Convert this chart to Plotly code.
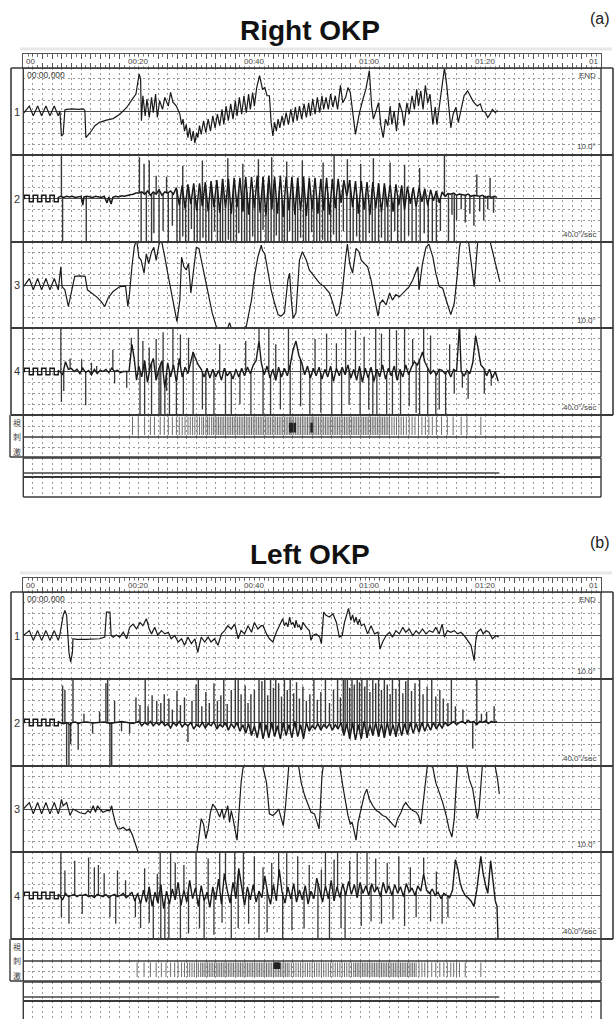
import numpy as np
import plotly.graph_objects as go

# ------------------------------------------------------------------ data
T_MAX = 100.0                     # seconds shown across the recording chart
GRID_STEP = 20.0 / 12.0           # time grid step (s)
RULER_T = [0, 20, 40, 60, 80, 100]
RULER_LBL = ["00", "00:20", "00:40", "01:00", "01:20", "01"]
ROW_LABELS = ["1", "2", "3", "4"]
SCALE_LBL = ["10.0°", "40.0°/sec", "10.0°", "40.0°/sec"]
STIM_LBL = ["視", "刺", "激"]
REC_END = 82.4

# calibration square wave (velocity channels), (t, value in divisions)
CAL_SQ = [(0, 0.0), (0.2, 0.0), (0.2, 0.3), (1.04, 0.3), (1.04, -0.3), (1.73, -0.3), (1.73, 0.3),
          (2.48, 0.3), (2.48, -0.3), (3.17, -0.3), (3.17, 0.3), (3.92, 0.3), (3.92, -0.3),
          (4.61, -0.3), (4.61, 0.3), (5.36, 0.3), (5.36, -0.3), (6.05, -0.3), (6.05, 0.1)]

# ---- (a) Right OKP
A1_POS = [(0.0, -0.2), (1.04, 0.5), (1.73, -0.4), (2.48, 0.5), (3.17, -0.4), (3.92, 0.5), (4.61, -0.4), (5.36, 0.5),
          (6.05, -0.4), (6.34, 0.05), (6.6, -2.25), (6.9, -2.1), (7.2, 0.15), (7.5, 0.2), (8.5, 0.25), (9.5, 0.2),
          (10.4, 0.25), (10.66, 0.1), (10.83, -2.4), (11.5, -2.0), (12.4, -1.3), (13.2, -1.0), (14.4, -0.8),
          (15.55, -0.65), (16.7, -0.25), (17.9, 0.37), (18.7, 1.0), (19.5, 1.6), (20.05, 3.45), (20.3, 3.0),
          (20.45, -0.85), (20.7, 1.45), (21.1, -0.4), (21.4, 1.15), (21.8, -0.55), (22.2, 1.3), (22.5, -0.1),
          (22.9, 1.6), (23.2, -0.55), (23.6, 1.0), (24.1, 0.2), (24.5, 1.3), (25.1, 0.5), (25.5, 1.75), (25.9, 0.85),
          (26.5, 0.5), (27.1, -0.25), (27.4, -1.2), (27.65, -0.7), (27.9, -1.8), (28.2, -1.2), (28.5, -2.4),
          (28.8, -1.5), (29.1, -2.7), (29.4, -1.8), (29.7, -2.9), (30.0, -1.95), (30.2, -2.4), (30.5, -1.3),
          (30.8, -2.1), (31.2, -0.85), (31.6, -1.95), (32.0, -0.7), (32.4, -1.8), (32.8, -0.4), (33.2, -1.5),
          (33.6, -0.25), (34.0, -1.3), (34.4, 0.2), (34.7, -1.2), (35.1, 0.5), (35.5, -0.85), (35.9, 0.7),
          (36.3, -0.7), (36.7, 1.0), (37.0, -0.4), (37.4, 1.3), (37.8, -0.25), (38.2, 1.45), (38.6, -0.1),
          (39.0, 1.6), (39.3, 0.2), (39.7, 1.75), (40.0, 0.5), (40.4, 2.2), (40.9, 3.3), (41.4, 2.05), (41.8, 2.2),
          (42.2, 1.45), (42.6, 1.45), (42.9, -1.0), (43.2, -2.25), (43.5, -1.0), (43.8, -1.8), (44.1, -0.7),
          (44.4, -1.5), (44.8, -0.4), (45.1, -1.3), (45.5, -0.1), (45.9, -1.2), (46.3, 0.2), (46.7, -1.0),
          (47.1, 0.4), (47.4, -0.85), (47.8, 0.5), (48.2, -0.7), (48.6, 0.7), (49.0, -0.55), (49.4, 0.8),
          (49.7, -0.4), (50.1, 1.15), (50.5, -0.25), (50.9, 1.3), (51.3, -0.1), (51.7, 1.45), (52.0, 0.2),
          (52.4, 1.3), (52.8, 0.2), (53.2, 1.6), (53.6, 0.4), (54.0, 1.45), (54.4, 0.2), (54.9, 2.4), (55.3, 0.8),
          (55.8, 1.3), (56.2, 2.2), (56.6, 1.75), (57.0, 0.2), (57.5, -2.1), (57.8, -1.2), (58.2, -0.1),
          (58.8, 1.15), (59.3, 2.05), (59.9, 3.75), (60.3, 0.5), (60.6, -0.7), (61.1, 0.2), (61.5, 0.8),
          (61.9, -1.3), (62.3, -2.4), (62.7, -0.7), (63.1, -1.3), (63.5, 0.5), (63.8, -1.2), (64.2, 0.05),
          (64.6, -1.8), (65.1, 0.8), (65.6, -0.1), (65.9, -1.3), (66.4, 0.8), (66.8, -0.25), (67.3, 1.45),
          (67.7, 0.2), (68.1, 2.05), (68.4, 0.5), (68.8, 1.9), (69.2, 0.2), (69.6, 2.4), (70.0, 0.8), (70.4, 1.6),
          (70.9, -1.2), (71.3, 0.4), (71.6, -1.2), (72.0, 0.5), (72.5, 2.2), (72.9, 4.0), (73.3, 2.4), (73.7, 0.2),
          (74.0, -1.5), (74.4, -0.25), (74.9, 0.4), (75.3, -1.0), (75.8, 0.2), (76.3, 1.45), (76.9, 1.9),
          (77.3, 1.45), (77.8, 1.0), (78.2, 0.7), (78.6, 0.5), (79.1, 0.7), (79.5, 0.05), (80.0, -0.1),
          (80.4, -0.55), (80.8, -0.25), (81.2, 0.2), (81.7, -0.1), (82.1, 0.1)]

A2_BASE = CAL_SQ + [
    (6.5, 0.2), (7, 0.1), (7.5, 0.2), (8, 0.15), (8.5, 0.2), (9, 0.1), (9.5, 0.15), (10, 0.2), (10.3, -0.6),
    (10.5, 0.15), (11, 0.2), (12, 0.1), (12.5, 0.2), (13, 0.15), (13.5, 0.1), (14, 0.2), (14.5, -0.4), (14.8, 0.15),
    (15.2, -0.5), (15.5, 0.1), (16, 0.2), (16.5, 0.15), (17, 0.25), (17.5, 0.2), (18, 0.3), (18.5, 0.35), (19, 0.4),
    (19.5, 0.5), (20, 0.5), (20.5, 0.6), (21, 0.4), (21.5, 0.7), (22, 0.3), (22.5, 0.6), (23, 0.4), (23.5, 0.8),
    (24, 0.3), (24.5, 0.6), (25, 0.5), (25.5, 0.7), (26, 0.4),
    (26.5, 1.0), (27.0, -0.6), (27.5, 1.2), (28.0, -0.9), (28.5, 1.3), (29.0, -0.5), (29.5, 1.4), (30.0, -1.1),
    (30.5, 1.4), (31.0, -0.7), (31.5, 1.5), (32.0, -1.2), (32.5, 1.6), (33.0, -0.8), (33.5, 1.7), (34.0, -1.3),
    (34.5, 1.8), (35.0, -0.9), (35.5, 1.8), (36.0, -1.4), (36.5, 1.9), (37.0, -0.8), (37.5, 1.9), (38.0, -1.2),
    (38.5, 2.0), (39.0, -1.5), (39.5, 2.0), (40.0, -0.9), (40.5, 2.1), (41.0, -1.3), (41.5, 2.0), (42.0, -1.6),
    (42.5, 2.1), (43.0, -1.0), (43.5, 2.0), (44.0, -1.4), (44.5, 2.1), (45.0, -1.7), (45.5, 2.0), (46.0, -1.1),
    (46.5, 2.0), (47.0, -1.5), (47.5, 1.9), (48.0, -1.2), (48.5, 2.0), (49.0, -1.6), (49.5, 1.9), (50.0, -1.0),
    (50.5, 1.9), (51.0, -1.4), (51.5, 1.8), (52.0, -1.1), (52.5, 1.9), (53.0, -1.5), (53.5, 1.8), (54.0, -0.9),
    (54.5, 1.8), (55.0, -0.4), (55.5, 1.7), (56.0, 0.2), (56.5, 1.7), (57.0, -0.8), (57.5, 1.6), (58.0, -1.4),
    (58.5, 1.6), (59.0, -1.0), (59.5, 1.5), (60.0, -1.5), (60.5, 1.5), (61.0, -0.9), (61.5, 1.4), (62.0, -1.3),
    (62.5, 1.4), (63.0, -0.8), (63.5, 1.3), (64.0, -1.2), (64.5, 1.3), (65.0, -0.6), (65.5, 1.2), (66.0, -1.0),
    (66.5, 1.1), (67.0, -0.5), (67.5, 1.0), (68.0, -0.8), (68.5, 1.0), (69.0, -0.3), (69.5, 0.9), (70.0, -0.6),
    (70.5, 0.8), (71.0, -0.2), (71.5, 0.7), (72.0, -0.4), (72.5, 0.6), (73.0, 0.2), (73.5, 0.45), (74, 0.4),
    (74.5, 0.5), (75, 0.3), (75.5, 0.4), (76, 0.35), (76.5, 0.3), (77, 0.4), (77.5, 0.2), (78, 0.3), (78.5, 0.25),
    (79, 0.2), (79.5, 0.3), (80, 0.1), (80.5, 0.2), (81, 0.1), (81.5, 0.2), (82, 0.1)]

A2_SPIKES = [
    (6.6, 3.9), (6.8, -4.5), (10.9, -4.5), (20.1, 3.8), (20.4, -4.5), (20.9, 3.2), (21.3, -4.5), (21.8, 3.5),
    (22.2, -4.5), (22.6, -3.2), (23.0, 2.1), (23.5, -4.5), (24.2, -3.0), (24.8, 2.0), (25.1, -4.5), (25.8, -2.5),
    (26.6, -4.5), (27.1, -4.5), (27.6, -3.5), (28.1, -4.5), (28.6, -4.5), (29.1, -2.8), (29.6, -4.5), (30.1, -4.5),
    (30.6, -4.5), (31.1, -3.6), (31.6, -4.5), (32.1, -4.5), (32.6, -4.5), (33.1, -3.0), (33.6, -4.5), (34.1, -4.5),
    (34.5, -4.5), (35.0, -4.5), (35.5, -3.8), (35.9, -4.5), (36.4, -4.5), (36.9, -4.5), (37.3, -3.2), (37.8, -4.5),
    (38.3, -4.5), (38.7, -4.5), (39.2, -4.5), (39.7, -3.5), (40.1, -4.5), (40.6, -4.5), (41.1, -4.5), (41.5, -2.9),
    (42.0, -4.5), (42.4, -4.5), (42.9, -4.5), (43.4, -4.5), (43.8, -3.4), (44.3, -4.5), (44.8, -4.5), (45.2, -4.5),
    (45.7, -4.5), (46.1, -3.0), (46.6, -4.5), (47.1, -4.5), (47.5, -4.5), (48.0, -3.6), (48.5, -4.5), (48.9, -4.5),
    (49.4, -4.5), (49.9, -3.1), (50.3, -4.5), (50.8, -4.5), (51.3, -4.5), (51.8, -3.8), (52.2, -4.5), (52.7, -4.5),
    (53.2, -4.5), (53.7, -3.3), (54.2, -4.5), (54.7, -4.5), (55.4, -3.0), (56.0, -4.5), (56.6, -4.5), (57.1, -4.5),
    (57.7, -3.5), (58.2, -4.5), (58.8, -4.5), (59.3, -4.5), (59.9, -3.2), (60.4, -4.5), (60.9, -4.5), (61.5, -4.5),
    (62.0, -3.6), (62.6, -4.5), (63.1, -4.5), (63.7, -4.5), (64.3, -3.0), (64.8, -4.5), (65.4, -4.5), (66.0, -4.5),
    (66.7, -3.4), (67.3, -4.5), (68.0, -4.5), (68.7, -4.5), (69.4, -3.2), (70.1, -4.5), (70.8, -4.5), (71.5, -4.5),
    (72.2, -3.0), (73.6, -4.5), (74.6, -4.5),
    (27.6, 3.0), (31.0, 3.5), (35.4, 3.7), (38.0, 3.2), (40.7, 3.6), (43.0, 3.8), (45.6, 3.4), (48.3, 3.5),
    (51.9, 3.3), (53.8, 3.9), (56.1, 3.6), (58.4, 3.2), (60.6, 3.7), (63.5, 3.3), (66.0, 3.1), (68.6, 2.8),
    (72.9, 4.5), (78.5, 2.2), (80.8, 1.9),
    (74.2, -1.5), (75.0, -2.0), (75.8, -1.0), (76.5, -2.2), (77.3, -1.4), (78.0, -2.5), (79.0, -1.2), (79.7, -2.0),
    (80.4, -1.0), (81.4, -1.3)]

A3_POS = [(0.0, -0.2), (1.04, 0.6), (1.73, -0.45), (2.48, 0.6), (3.17, -0.45), (3.92, 0.6), (4.61, -0.45),
          (5.36, 0.6), (6.05, -0.45), (6.5, 1.7), (6.7, -0.15), (7.2, -0.45), (7.8, -2.0), (8.35, -0.45), (8.9, 0.8),
          (9.8, 0.85), (10.7, 0.8), (11.1, -0.45), (11.8, -0.75), (12.7, -1.1), (13.5, -1.55), (14.1, -2.0),
          (14.7, -1.2), (15.55, -0.6), (16.7, -0.15), (17.7, -0.1), (18.1, -2.0), (18.4, -0.75), (18.8, 1.7),
          (19.2, 3.5), (19.6, 4.3), (20.0, 2.6), (20.4, 2.3), (20.9, 1.1), (21.3, 2.9), (21.7, 2.0), (22.2, 3.1),
          (22.6, 3.5), (23.0, 2.3), (23.5, 3.8), (23.9, 4.2), (24.2, 3.5), (24.6, 2.3), (25.1, 0.8), (25.6, -0.75),
          (26.2, -2.3), (26.6, -3.4), (27.1, -1.4), (27.4, 2.6), (27.8, 1.7), (28.2, 1.4), (28.6, 2.0), (29.0, -0.75),
          (29.4, 1.1), (29.95, 3.5), (30.4, 3.4), (30.8, 2.3), (31.4, 0.8), (32.0, -0.75), (32.7, -2.6),
          (33.4, -3.85), (34.0, -4.3), (35.0, -4.6), (35.7, -3.5), (36.3, -4.5), (38.6, -3.85), (39.5, -1.4),
          (40.0, 0.8), (40.6, 2.6), (41.2, 3.7), (41.4, 3.2), (41.8, 2.9), (42.3, 1.4), (42.9, -0.45), (43.5, -1.7),
          (44.1, -2.75), (44.6, -2.9), (45.2, -2.6), (45.8, 0.45), (46.1, 1.1), (46.4, -1.4), (46.7, -3.1),
          (47.2, -2.6), (47.8, 2.3), (48.3, 3.1), (49.0, 2.3), (49.5, 1.4), (50.4, 0.8), (51.3, 0.15), (52.1, -0.15),
          (53.0, -0.75), (53.6, -1.7), (54.2, -2.9), (54.6, -2.6), (55.2, -0.75), (55.8, 2.6), (56.1, 3.8),
          (56.5, 2.0), (57.0, 1.1), (57.6, 3.4), (58.1, 3.1), (58.5, 2.3), (59.0, 2.0), (59.6, 1.7), (60.2, 0.45),
          (60.8, -1.4), (61.4, -2.9), (61.75, -1.7), (62.2, -1.4), (62.8, -1.85), (63.4, -0.75), (63.9, -1.4),
          (64.5, -0.9), (65.1, -1.1), (65.7, -0.75), (66.2, -0.45), (66.8, -0.15), (67.4, 0.45), (67.9, 1.1),
          (68.3, 1.7), (68.5, -0.45), (69.1, 2.0), (69.7, 3.5), (70.2, 3.8), (70.9, 2.6), (71.4, 1.1), (72.0, -0.15),
          (72.6, -0.3), (73.2, -1.4), (74.0, -2.75), (74.6, -1.7), (75.1, 0.8), (75.5, 3.5), (75.8, 4.3), (76.3, 4.4),
          (77.1, 3.9), (78.05, -0.15), (78.7, 4.3), (80.6, 4.5), (81.05, 3.5), (82.5, 0.3)]

A4_BASE = CAL_SQ + [
    (6.3, 0.0), (6.8, -0.3), (7.3, 0.9), (7.8, 0.2), (8.3, 0.3), (8.8, 0.0), (9.3, 0.2), (9.8, -0.2), (10.3, 0.3),
    (10.8, -0.1), (11.3, 0.1), (11.8, -0.3), (12.3, 0.2), (12.8, -0.2), (13.3, 0.1), (13.8, 0.0), (14.3, 0.2),
    (14.8, -0.1), (15.3, 0.3), (15.8, 0.0), (16.3, 0.1), (16.8, -0.1), (17.3, 0.0), (17.8, 0.0), (18.3, 0.0),
    (18.8, 2.5), (19.2, 1.2), (19.6, -0.8), (20.0, 0.5), (20.5, -0.5), (21.0, 1.0), (21.5, -1.0), (22.0, 0.5),
    (22.5, 1.2), (23.0, -0.8), (23.5, 0.3), (24.0, 1.0), (24.5, -1.5), (25.0, 0.8), (25.5, -0.5), (26.0, 0.6),
    (26.5, -1.0), (27.0, 1.2), (27.5, -0.5), (28.0, 0.4), (28.5, -0.2), (29.0, 0.8), (29.4, 1.8), (29.8, 1.2),
    (30.3, 0.6), (30.8, 0.2), (31.3, -0.5), (31.8, 0.3), (32.3, -0.6), (32.8, 0.2), (33.3, -0.5), (33.8, 0.1),
    (34.3, -0.8), (34.8, 0.3), (35.3, -0.4), (35.8, 0.0), (36.3, -0.7), (36.8, 0.2), (37.3, -0.5), (37.8, 0.3),
    (38.3, -0.4), (38.8, 0.4), (39.3, -0.2), (39.8, 0.6), (40.3, 1.0), (40.8, 2.8), (41.2, 0.8), (41.7, -0.3),
    (42.2, 0.5), (42.7, -0.6), (43.2, 0.2), (43.7, -0.8), (44.2, 0.4), (44.7, -0.5), (45.2, 0.3), (45.7, -0.4),
    (46.2, 0.6), (46.7, 2.0), (47.2, 2.8), (47.7, 1.5), (48.2, 0.8), (48.7, -0.3), (49.2, 0.5), (49.7, -0.6),
    (50.2, 0.3), (50.7, -0.4), (51.2, 0.4), (51.7, -0.7), (52.2, 0.2), (52.7, -0.5), (53.2, 0.5), (53.7, -0.9),
    (54.2, 0.3), (54.7, -0.4), (55.2, 0.4), (55.7, -0.3), (56.2, 0.6), (56.7, -0.6), (57.2, 0.2), (57.7, -0.8),
    (58.2, 0.5), (58.7, -1.0), (59.2, 0.3), (59.7, -0.6), (60.2, 0.4), (60.7, -0.9), (61.2, 0.2), (61.7, -0.5),
    (62.2, 0.6), (62.7, -0.7), (63.2, 0.3), (63.7, -0.4), (64.2, 0.5), (64.7, -0.8), (65.2, 0.2), (65.7, -0.5),
    (66.2, 0.6), (66.7, -0.3), (67.2, 0.4), (67.7, 0.9), (68.2, 0.6), (68.7, 1.2), (69.1, 1.8), (69.5, 0.9),
    (70.0, 0.3), (70.5, -0.2), (71.0, 0.1), (71.5, -0.3), (72.0, 0.2), (72.5, 0.1), (73.0, -0.2), (73.5, 0.1),
    (74.0, -0.5), (74.5, 0.2), (75.0, 0.0), (75.5, 4.3), (75.8, 0.0), (76.3, -0.4), (76.8, 0.1), (77.3, -0.2),
    (77.8, 0.8), (78.3, 3.3), (78.7, 2.2), (79.2, 0.6), (79.7, 0.3), (80.2, -0.4), (80.7, 0.2), (81.2, -0.6),
    (81.7, 0.0), (82.2, -0.9)]

A4_SPIKES = [
    (6.5, 4.5), (6.6, -2.8), (7.0, -1.8), (8.1, 1.2), (10.1, 1.1), (10.8, -3.1), (11.8, 0.8), (12.7, 0.5),
    (15.5, 2.0), (15.8, -1.1), (17.9, -1.5), (18.7, 3.1), (19.9, 4.5), (20.2, -4.5), (20.7, 2.8), (21.0, -4.5),
    (21.8, 2.2), (22.2, -4.5), (23.0, 3.0), (23.5, -4.5), (23.8, -4.5), (24.2, 3.6), (24.5, -4.5), (24.8, -1.8),
    (25.3, -4.5), (25.9, 4.5), (26.5, -4.5), (27.2, 3.4), (27.7, -4.5), (28.6, 3.1), (29.4, -4.5), (31.0, -3.5),
    (31.6, -4.5), (33.0, -4.5), (34.0, 2.5), (35.0, -4.5), (36.0, -4.5), (37.5, -3.0), (38.5, 2.8), (39.4, -4.5),
    (40.8, 4.5), (41.5, -4.5), (42.5, 4.5), (42.8, -4.5), (43.7, 2.5), (44.5, -3.5), (45.9, 4.5), (46.2, -4.5),
    (48.0, -3.2), (49.6, -4.5), (50.5, 3.0), (51.5, -3.8), (52.5, 3.5), (53.4, -4.5), (54.2, 2.6), (55.1, -4.5),
    (55.8, 4.5), (56.4, -3.0), (57.5, 3.8), (58.3, -4.5), (59.0, 3.2), (59.8, -3.5), (60.5, -4.5), (61.0, 4.5),
    (61.2, -4.5), (62.0, 3.5), (62.9, -4.5), (63.4, 4.5), (63.9, -4.5), (64.6, 3.8), (65.3, -4.5), (66.0, 4.5),
    (66.8, -3.2), (67.4, 3.0), (68.0, -3.8), (68.6, -4.5), (69.3, 4.0), (70.0, -4.5), (70.5, 3.3), (71.4, -4.5),
    (72.0, -3.5), (73.1, -4.5), (73.8, 2.5), (74.6, -2.0), (76.0, -1.5), (77.0, -2.5), (79.8, -2.0), (81.0, -1.3)]

STIM_A = [18.9, 19.9, 21.0, 22.0, 22.7, 23.7, 24.4, 25.1, 25.8, 26.5, 27.0, 27.5, 28.0, 28.5, 28.9, 29.3, 29.7,
          30.1, 30.5, 30.9, 31.2, 31.6, 31.9, 32.2, 32.6, 32.9, 33.2, 33.5, 33.8, 34.1, 34.4, 34.7, 35.0, 35.3,
          35.6, 35.9, 36.2, 36.5, 36.8, 37.1, 37.4, 37.7, 38.0, 38.3, 38.6, 38.9, 39.2, 39.5, 39.8, 40.1, 40.4,
          40.7, 41.0, 41.3, 41.6, 41.9, 42.2, 42.5, 42.8, 43.1, 43.4, 43.7, 44.0, 44.3, 44.6, 44.9, 45.2, 45.5,
          45.8, 46.1, 46.3, 46.5, 46.8, 47.1, 47.4, 47.7, 48.0, 48.3, 48.6, 48.9, 49.2, 49.5, 49.8, 50.0, 50.2,
          50.5, 50.8, 51.1, 51.4, 51.7, 52.0, 52.3, 52.6, 52.9, 53.2, 53.5, 53.8, 54.1, 54.4, 54.7, 55.0, 55.3,
          55.6, 55.9, 56.2, 56.5, 56.8, 57.1, 57.4, 57.7, 58.0, 58.3, 58.6, 58.9, 59.2, 59.5, 59.8, 60.1, 60.4,
          60.7, 61.0, 61.3, 61.6, 61.9, 62.2, 62.5, 62.8, 63.1, 63.4, 63.8, 64.2, 64.6, 65.0, 65.4, 65.8, 66.3,
          66.8, 67.3, 67.8, 68.4, 69.0, 69.6, 70.2, 70.8, 71.5, 72.4, 73.4, 74.4, 75.8, 76.8, 79.2]
STIM_A_BOLD = [46.2, 46.5, 47.0, 49.9]

# ---- (b) Left OKP
B1_POS = [(0.0, 0.0), (1.04, 0.45), (1.73, -0.45), (2.48, 0.45), (3.17, -0.45), (3.92, 0.45), (4.61, -0.45),
          (5.36, 0.45), (6.05, -0.45), (6.3, 0.0), (6.9, 1.85), (7.2, 2.3), (7.5, 1.85), (7.7, 0.0), (7.9, -1.55),
          (8.2, -2.45), (8.5, -1.55), (8.6, -0.3), (9.2, -0.35), (10.9, -0.35), (13.2, -0.3), (14.1, -0.15),
          (14.4, 2.15), (15.0, 2.15), (15.2, 0.0), (15.55, -0.15), (16.1, 0.05), (16.7, -0.15), (17.3, 0.3),
          (17.9, -0.3), (18.4, 0.75), (19.0, 1.05), (19.6, 0.6), (20.2, 1.2), (20.7, 0.9), (21.3, 1.55), (21.8, 0.6),
          (22.2, 0.15), (22.75, 0.75), (23.3, 0.0), (23.9, 0.45), (24.5, 0.15), (25.1, 0.3), (25.6, -0.3),
          (26.2, 0.0), (26.8, -0.6), (27.4, -0.3), (27.9, -0.9), (28.5, -0.15), (29.1, -0.75), (29.7, -0.3),
          (30.2, -1.55), (30.8, -0.15), (31.4, -0.6), (32.0, -0.15), (32.5, -0.6), (33.1, -0.3), (33.7, -0.9),
          (34.3, 0.15), (34.85, 0.45), (35.4, 0.9), (36.0, 0.6), (36.6, 1.05), (37.2, -0.3), (37.7, 0.45),
          (38.3, 0.15), (38.9, 0.9), (39.5, 0.3), (40.0, 1.2), (40.6, 0.6), (41.2, 0.9), (41.5, 0.9), (42.1, 0.15),
          (42.6, -0.3), (43.2, -0.6), (43.8, 0.3), (44.4, 1.05), (44.9, 1.55), (45.2, 0.9), (45.5, 1.2), (45.8, 0.8),
          (46.1, 1.7), (46.4, 1.0), (46.7, 1.2), (47.0, 0.7), (47.2, 1.4), (47.5, 0.8), (47.8, 0.9), (48.1, 0.5),
          (48.4, 1.2), (49.0, 0.75), (49.5, 0.45), (49.8, -0.45), (50.1, 0.0), (50.7, 0.15), (51.3, -0.15),
          (51.6, -0.75), (52.0, 2.15), (52.4, 1.85), (53.0, 1.7), (53.6, 2.0), (54.2, 1.2), (54.7, -0.15), (55.2, 0.0),
          (55.6, 1.2), (56.0, 2.0), (56.3, 2.5), (56.7, 1.4), (57.0, 1.9), (57.3, 1.2), (57.6, 1.7), (57.9, 1.0),
          (58.2, 1.5), (58.5, 0.9), (59.0, 1.05), (59.6, 0.15), (60.2, 0.9), (60.8, 0.15), (61.4, 0.3),
          (61.75, -1.25), (62.2, -0.6), (62.8, 0.0), (63.4, 0.3), (63.9, -0.15), (64.5, 0.45), (65.1, 0.15),
          (65.7, 0.75), (66.2, 0.3), (66.8, 0.6), (67.4, 0.0), (68.0, 0.45), (68.5, 0.15), (69.1, 0.6), (69.7, 0.15),
          (70.3, 0.45), (70.9, 0.3), (71.4, 0.75), (72.0, 0.15), (72.5, 1.05), (72.9, -0.15), (73.4, 0.45),
          (74.0, 0.3), (74.6, 0.45), (75.2, 0.15), (75.75, 0.3), (76.3, 0.0), (76.9, -0.45), (77.5, -0.9),
          (78.05, -2.3), (78.3, -0.6), (78.6, 0.3), (79.2, 0.6), (79.6, 0.15), (80.1, 0.45), (80.6, 0.3),
          (81.2, -0.3), (81.8, 0.0), (82.3, -0.15)]

B2_BASE = CAL_SQ + [
    (6.3, 0.0), (7.0, -0.1), (7.5, 0.0), (8.0, -0.2), (8.5, 0.0), (9.0, 0.05), (9.5, -0.1), (10, 0.0), (11, 0.05),
    (12, -0.05), (13, 0.0), (14, 0.05), (15, -0.1), (16, 0.0), (17, 0.1), (18, 0.0), (19, -0.1), (20, 0.1),
    (20.5, -0.3), (21, 0.0), (21.5, -0.2), (22, 0.1), (22.5, -0.3), (23, 0.0), (23.5, -0.2), (24, 0.1),
    (24.5, -0.3), (25, -0.1), (25.5, -0.5), (26, 0.0), (26.5, -0.3), (27, 0.1), (27.5, -0.4), (28, -0.1),
    (28.5, -0.3), (29, 0.0), (29.5, -0.6), (30, -0.2), (30.5, -0.4), (31, 0.0), (31.5, -0.5), (32, -0.1),
    (32.5, -0.3), (33, 0.1), (33.5, -0.6), (34, -0.2), (34.5, -0.4), (35, 0.0), (35.5, -0.7), (36, -0.1),
    (36.5, -0.5), (37, 0.0), (37.5, -0.8), (38, -0.2), (38.5, -1.0), (39, -0.1), (39.5, -1.2), (40, -0.3),
    (40.5, -1.4), (41, 0.0), (41.5, -1.5), (42, -0.2), (42.5, -1.4), (43, 0.0), (43.5, -1.3), (44, -0.3),
    (44.5, -1.5), (45, 0.0), (45.5, -1.2), (46, -0.2), (46.5, -1.4), (47, 0.1), (47.5, -1.3), (48, -0.2),
    (48.5, -1.5), (49, 0.0), (49.5, -0.8), (50, -0.3), (50.5, -0.6), (51, -0.1), (51.5, -0.7), (52, -0.2),
    (52.5, -0.5), (53, -0.1), (53.5, -0.7), (54, -0.2), (54.5, -0.6), (55, 0.0), (55.5, -1.2), (56, -0.1),
    (56.5, -1.5), (57, 0.0), (57.5, -1.6), (58, -0.2), (58.5, -1.5), (59, 0.1), (59.5, -1.4), (60, -0.2),
    (60.5, -1.2), (61, 0.0), (61.5, -1.3), (62, -0.1), (62.5, -1.4), (63, 0.0), (63.5, -1.2), (64, -0.2),
    (64.5, -1.3), (65, 0.0), (65.5, -1.2), (66, -0.1), (66.5, -1.1), (67, 0.0), (67.5, -1.0), (68, -0.1),
    (68.5, -0.9), (69, 0.0), (69.5, -0.8), (70, -0.1), (70.5, -0.7), (71, 0.0), (71.5, -0.6), (72, -0.1),
    (72.5, -0.5), (73, 0.0), (73.5, -0.3), (74, -0.1), (74.5, 0.1), (75, -0.2), (75.5, 0.0), (76, 0.1),
    (76.5, -0.1), (77, 0.2), (77.5, 0.0), (78, 0.1), (78.5, -0.2), (79, 0.1), (79.5, 0.0), (80, 0.15),
    (80.5, -0.1), (81, 0.1), (81.5, 0.0), (82, 0.1)]

B2_SPIKES = [
    (6.8, 3.4), (7.2, 3.0), (7.5, -4.5), (7.9, -4.5), (8.2, -2.0), (8.6, 4.5), (9.5, -2.5), (10.5, 0.8),
    (12.0, -1.0), (13.2, 1.0), (14.3, 3.6), (14.6, 4.5), (15.0, -4.5), (15.3, -4.5), (15.8, 2.0), (17.0, -0.8),
    (18.4, -1.0), (19.5, 2.3), (20.2, 1.6), (21.1, 4.5), (21.6, 1.5), (22.3, 2.5), (23.1, 2.0), (23.8, 1.8),
    (24.4, 2.6), (25.2, 2.2), (25.8, 1.2), (26.6, 2.9), (27.2, 1.6), (27.9, 2.3), (28.5, -1.8), (29.2, 2.0),
    (29.9, 3.5), (30.3, 4.5), (30.9, 1.5), (31.6, 2.8), (32.2, 1.8), (33.0, 3.6), (33.6, 2.0), (34.2, 2.5),
    (34.7, 4.5), (35.3, 1.7), (36.0, 3.0), (36.7, 4.5), (37.2, 4.5), (37.7, 2.6), (38.4, 3.4), (38.9, 1.8),
    (39.4, 2.6), (40.0, 3.0), (40.8, 4.5), (41.3, 3.8), (41.8, 4.5), (42.3, 2.5), (42.8, 4.5), (43.3, 3.2),
    (43.7, 4.5), (44.2, 3.6), (44.7, 2.4), (45.2, 4.5), (45.7, 3.0), (46.2, 4.5), (46.8, 2.7), (47.3, 3.7),
    (47.8, 2.2), (48.4, 3.3), (49.0, 2.0), (49.6, 2.6), (50.3, 4.5), (50.9, 2.1), (51.5, 2.8), (52.3, 4.5),
    (53.0, 1.8), (53.7, 3.0), (54.4, 4.5), (54.9, 2.3), (55.4, 3.9), (55.7, 4.5), (56.1, 4.5), (56.5, 3.2),
    (56.9, 4.5), (57.3, 3.5), (57.8, 4.5), (58.2, 3.7), (58.6, 4.5), (59.1, 3.3), (59.5, 4.5), (60.0, 2.8),
    (60.5, 4.5), (61.0, 3.6), (61.5, 4.5), (62.0, 3.0), (62.5, 4.5), (63.0, 3.5), (63.5, 2.6), (63.9, 4.5),
    (64.5, 3.1), (65.1, 4.5), (65.7, 2.7), (66.2, 3.8), (66.6, 4.5), (67.2, 2.9), (67.8, 3.6), (68.6, 4.5),
    (69.2, 2.6), (69.9, 3.3), (70.7, 4.5), (71.4, 2.4), (72.1, 3.0), (72.7, 2.2), (73.5, 1.8), (74.1, 4.5),
    (74.8, 1.5), (76.1, 1.2), (77.8, -2.4), (78.5, 4.5), (79.3, 0.8), (80.2, 1.0), (81.5, 1.5)]

B3_POS = [(0.0, 0.0), (1.04, 0.6), (1.73, -0.45), (2.48, 0.6), (3.17, -0.45), (3.92, 0.6), (4.61, -0.45),
          (5.36, 0.6), (6.05, -0.45), (6.3, 0.0), (6.6, 0.9), (6.9, 0.3), (7.5, 0.6), (8.1, -0.6), (8.6, 0.0),
          (9.1, -0.15), (9.8, -0.35), (10.7, -0.45), (11.2, -0.15), (11.6, -0.35), (12.1, 0.3), (12.5, -0.3),
          (12.85, 0.3), (13.25, 0.0), (13.8, -0.3), (14.4, -0.15), (15.0, -0.15), (15.3, 0.3), (15.55, -0.45),
          (16.0, -1.4), (16.4, -1.85), (16.8, -1.85), (17.3, -1.7), (17.9, -2.0), (18.4, -1.85), (18.9, -2.45),
          (19.3, -3.1), (19.7, -3.7), (20.0, -4.2), (20.5, -4.6), (29.8, -4.6), (30.0, -4.3), (30.4, -2.45),
          (30.8, -0.9), (31.2, -1.4), (31.6, -2.75), (32.0, -1.85), (32.4, -0.3), (32.8, 0.45), (33.4, 0.0),
          (34.0, -0.75), (34.4, 0.0), (34.7, -0.9), (35.1, -0.3), (35.4, 0.3), (35.7, -1.25), (36.0, -0.15),
          (36.3, -0.9), (36.7, -2.15), (37.0, -2.9), (37.3, -0.6), (37.7, 2.45), (38.0, 3.7), (38.3, 4.3),
          (41.0, 4.5), (41.5, 3.85), (42.1, 2.45), (42.6, -0.45), (43.2, -0.6), (43.8, -0.3), (44.2, 0.0),
          (44.6, -0.9), (45.0, -1.55), (45.4, 0.3), (45.8, 3.7), (46.0, 4.3), (47.5, 4.5), (48.1, 2.45),
          (48.7, 1.25), (49.3, 0.3), (49.8, -0.3), (50.4, -0.45), (50.8, -1.25), (51.2, -1.85), (51.4, 0.0),
          (51.7, 3.1), (52.0, 4.3), (54.7, 4.3), (55.3, 2.15), (55.8, 0.6), (56.2, -0.6), (56.6, -1.4),
          (56.9, -1.25), (57.2, -1.85), (57.6, -2.9), (57.95, -1.25), (58.5, 0.0), (59.0, 1.25), (59.45, 1.85),
          (59.9, 0.9), (60.5, 0.3), (61.1, -0.15), (61.6, -0.3), (62.2, -0.6), (62.8, -0.75), (63.4, -1.1),
          (63.9, -1.4), (64.4, -1.7), (64.8, -0.9), (65.4, -0.3), (65.8, 0.3), (66.2, 0.6), (66.8, 0.15),
          (67.4, -0.15), (68.0, -0.3), (68.4, -0.6), (68.8, -1.4), (69.1, 0.0), (69.5, 2.45), (70.0, 4.3),
          (70.9, 3.85), (71.4, 2.45), (72.0, 1.55), (72.6, 0.6), (73.2, -0.6), (73.7, -1.85), (74.2, -2.6),
          (74.6, -0.9), (74.9, 1.85), (75.2, 4.3), (76.6, 4.5), (77.2, 2.75), (77.8, 1.85), (78.3, 0.0),
          (78.6, -0.9), (78.9, 0.0), (79.2, 2.45), (79.5, 4.3), (81.5, 4.5), (82.1, 2.75), (82.4, 1.4)]

B4_BASE = CAL_SQ + [
    (6.3, 0.0), (6.8, -0.4), (7.3, 0.2), (7.8, -0.1), (8.3, 0.0), (8.8, 0.1), (9.3, -0.1), (9.8, 0.05),
    (10.3, 0.0), (10.8, 0.1), (11.3, -0.1), (11.8, 0.0), (12.3, -0.2), (12.8, 0.1), (13.3, 0.0), (13.8, -0.1),
    (14.3, 0.1), (14.8, -0.2), (15.3, 0.0), (15.8, 0.1), (16.3, -0.1), (16.8, 0.0), (17.3, 0.2), (17.8, -0.2),
    (18.3, 0.0), (18.8, 0.3), (19.3, -0.5), (19.8, 0.2), (20.3, -0.8), (20.8, 0.5), (21.3, -0.6), (21.8, 0.8),
    (22.3, -1.0), (22.8, 0.3), (23.3, -0.7), (23.8, 1.0), (24.3, -1.2), (24.8, 0.4), (25.3, -0.8), (25.8, 0.6),
    (26.3, -0.4), (26.8, 1.2), (27.3, -0.9), (27.8, 0.5), (28.3, -0.6), (28.8, 1.4), (29.3, -0.3), (29.8, 0.7),
    (30.3, -1.0), (30.8, 0.9), (31.3, -0.5), (31.8, 0.3), (32.3, -1.1), (32.8, 0.8), (33.3, -0.4), (33.8, 1.5),
    (34.3, -0.8), (34.8, 2.0), (35.3, 0.5), (35.8, -0.7), (36.3, 1.2), (36.8, -0.3), (37.3, 2.5), (37.8, 0.6),
    (38.3, -0.9), (38.8, 0.8), (39.3, -0.4), (39.8, 1.0), (40.3, -0.6), (40.8, 0.4), (41.3, -0.2), (41.8, 1.8),
    (42.3, 0.2), (42.8, -0.8), (43.3, 1.0), (43.8, -0.5), (44.3, 2.4), (44.8, 0.3), (45.3, -0.7), (45.8, 0.8),
    (46.3, -0.3), (46.8, 1.1), (47.3, -0.6), (47.8, 0.5), (48.3, -0.4), (48.8, 0.9), (49.3, -0.8), (49.8, 0.4),
    (50.3, -0.3), (50.8, 1.6), (51.3, 0.4), (51.8, -0.6), (52.3, 0.9), (52.8, -0.3), (53.3, 1.4), (53.8, -0.5),
    (54.3, 0.8), (54.8, -0.2), (55.3, 1.1), (55.8, 0.0), (56.3, 1.3), (56.8, 0.1), (57.3, 1.0), (57.8, -0.2),
    (58.3, 1.2), (58.8, 0.2), (59.3, 0.9), (59.8, 0.0), (60.3, 1.1), (60.8, 0.3), (61.3, 0.8), (61.8, -0.1),
    (62.3, 1.2), (62.8, 0.2), (63.3, 0.9), (63.8, 0.0), (64.3, 1.0), (64.8, 0.2), (65.3, 0.8), (65.8, -0.1),
    (66.3, 1.1), (66.8, 0.3), (67.3, 0.7), (67.8, 0.0), (68.3, 0.9), (68.8, 0.4), (69.3, 2.0), (69.8, 0.5),
    (70.3, 0.2), (70.8, 0.6), (71.3, 0.0), (71.8, 0.3), (72.3, -0.3), (72.8, 0.2), (73.3, 0.0), (73.8, -0.2),
    (74.3, 0.5), (74.8, 3.3), (75.2, 2.5), (75.6, 1.2), (76.0, 0.5), (76.5, 0.0), (77.0, -0.2), (77.5, -0.5),
    (78.0, -1.0), (78.5, 0.5), (79.2, 3.6), (79.6, 2.0), (80.0, 1.0), (80.4, 0.2), (80.9, 3.2), (81.3, 1.5),
    (81.7, -0.5), (82.0, -1.0), (82.2, -4.5)]

B4_SPIKES = [
    (6.5, 4.5), (6.6, -2.0), (7.2, 2.3), (7.9, -2.6), (8.9, 3.2), (10.2, -1.7), (11.3, 3.5), (12.3, 2.6),
    (13.0, 2.8), (14.0, 2.0), (15.0, -2.0), (16.0, -2.6), (16.3, 2.3), (17.7, 1.4), (19.4, -2.0), (20.3, -3.0),
    (21.0, 2.5), (21.8, -2.5), (22.5, -4.5), (23.2, 2.0), (23.7, 4.5), (23.8, -4.5), (24.5, -4.5), (25.2, -4.5),
    (25.5, 4.5), (26.3, 3.0), (27.2, -4.5), (27.8, 2.8), (28.6, -3.5), (29.9, 4.5), (30.5, -3.0), (31.3, -4.5),
    (32.0, 3.4), (33.0, -3.6), (34.0, 4.5), (34.4, -2.5), (35.0, 4.5), (36.0, -4.5), (36.6, 4.5), (37.2, -3.0),
    (38.1, 4.5), (39.0, -2.6), (40.0, 3.6), (40.8, -4.5), (41.5, 2.6), (42.2, -3.4), (43.0, 3.0), (44.2, 4.5),
    (44.9, -4.5), (45.6, 4.5), (46.5, -3.2), (47.5, 3.6), (48.6, -3.0), (49.5, 2.8), (51.0, -4.5), (51.6, 2.4),
    (52.3, 4.5), (53.0, -4.5), (53.8, 3.3), (54.4, 4.5), (55.0, -3.0), (55.7, -4.5), (56.5, 3.2), (57.8, 4.5),
    (58.5, -2.8), (59.5, 4.5), (60.2, -2.4), (61.0, 3.4), (62.0, -2.6), (63.0, 3.0), (64.0, -2.2), (65.0, 3.6),
    (66.0, -2.8), (67.0, 2.6), (68.0, -2.0), (69.3, 3.5), (70.5, -2.4), (71.5, 2.2), (72.5, -2.6), (73.5, -2.0)]

STIM_B = [19.7, 20.9, 22.0, 23.0, 23.9, 24.7, 25.5, 26.2, 26.8, 27.4, 27.9, 28.4, 28.8, 29.2, 29.6, 30.0, 30.3,
          30.7, 31.0, 31.3, 31.6, 31.9, 32.2, 32.5, 32.8, 33.1, 33.4, 33.7, 34.0, 34.3, 34.6, 34.9, 35.2, 35.5,
          35.8, 36.1, 36.4, 36.7, 37.0, 37.3, 37.6, 37.9, 38.2, 38.5, 38.8, 39.1, 39.4, 39.7, 40.0, 40.3, 40.6,
          40.9, 41.2, 41.5, 41.8, 42.1, 42.4, 42.7, 43.0, 43.3, 43.6, 43.9, 44.2, 44.5, 44.8, 45.1, 45.4, 45.7,
          46.0, 46.4, 46.8, 47.2, 47.6, 48.0, 48.4, 48.8, 49.2, 49.6, 50.0, 50.4, 50.8, 51.2, 51.6, 52.0, 52.4,
          52.8, 53.2, 53.6, 54.0, 54.4, 54.8, 55.2, 55.6, 56.0, 56.4, 56.8, 57.2, 57.5, 57.8, 58.1, 58.4, 58.7,
          59.0, 59.3, 59.6, 59.9, 60.2, 60.5, 60.8, 61.1, 61.4, 61.7, 62.0, 62.3, 62.6, 62.9, 63.2, 63.5, 63.8,
          64.1, 64.4, 64.7, 65.0, 65.3, 65.6, 65.9, 66.2, 66.5, 66.8, 67.1, 67.4, 67.7, 68.0, 68.5, 69.0, 69.5,
          70.0, 70.7, 71.4, 72.1, 72.8, 73.4, 74.0, 74.5, 75.0, 75.5, 76.5, 79.2]
STIM_B_BOLD = [43.5, 43.7, 43.9, 44.1, 44.3]

# ------------------------------------------------------------------ layout geometry (pixels)
W, H = 616, 1019
PX_L, PX_R = 23.3, 601.0
FRAME = "#3a3a3a"
GRIDC = "#999999"
GRID_DASH = "2px,3px"
TRACE = "#1a1a1a"
SPIKE = "#383838"
STIMC = "#6e6e6e"
FONT = "Liberation Sans"

ROWS = [(68, 155), (155, 242), (242, 328), (328, 415)]
STIM_ROWS = [(415, 437), (437, 457)]
BOXES = [(458, 477), (477, 497)]
RULER = (54, 68)
PANELS = [dict(off=0, title="Right OKP", tag="(a)"), dict(off=524, title="Left OKP", tag="(b)")]


def px(x):
    return x / W


def py(y):
    return 1 - y / H


def dom(top, bot):
    return [max(0.0, py(bot)), min(1.0, py(top))]


def unzip(pairs):
    return [p[0] for p in pairs], [p[1] for p in pairs]


def spike_xy(base, spikes):
    bt, bv = unzip(base)
    xs, ys = [], []
    for t, tip in spikes:
        b = float(np.interp(t, bt, bv))
        xs += [t, t, None]
        ys += [b, tip, None]
    return xs, ys


def seg_xy(times, y0, y1):
    xs, ys = [], []
    for t in times:
        xs += [t, t, None]
        ys += [y0, y1, None]
    return xs, ys


layout = dict(width=W, height=H, margin=dict(l=0, r=0, t=0, b=0), paper_bgcolor="white",
              plot_bgcolor="rgba(0,0,0,0)", showlegend=False, font=dict(family=FONT, color="#333"))
layout["xaxis"] = dict(domain=[px(PX_L), px(PX_R)], range=[0, T_MAX], showgrid=True, gridcolor=GRIDC,
                       gridwidth=1, griddash=GRID_DASH, tick0=0, dtick=GRID_STEP, showticklabels=False,
                       ticks="", zeroline=False, showline=False, fixedrange=True, anchor="y")
traces = []
shapes = []
annotations = []
ycount = [0]


def new_y(top, bot, rng, **kw):
    ycount[0] += 1
    k = ycount[0]
    name = "yaxis" if k == 1 else "yaxis%d" % k
    ref = "y" if k == 1 else "y%d" % k
    d = dict(domain=dom(top, bot), range=rng, anchor="x", showticklabels=False, ticks="", showline=False,
             fixedrange=True, zeroline=False, showgrid=False)
    d.update(kw)
    layout[name] = d
    return ref


def line(x0, y0, x1, y1, w=1.4, c=FRAME):
    shapes.append(dict(type="line", xref="paper", yref="paper", x0=px(x0), x1=px(x1), y0=py(y0), y1=py(y1),
                       line=dict(color=c, width=w)))


def text(x, y, s, size, anchor="center", color="#333", family=FONT):
    annotations.append(dict(x=px(x), y=py(y), xref="paper", yref="paper", text=s,
                            showarrow=False, xanchor=anchor, yanchor="middle",
                            font=dict(size=size, color=color, family=family)))


def add_line_trace(yref, xs, ys, color=TRACE, width=1.0):
    traces.append(go.Scatter(x=xs, y=ys, xaxis="x", yaxis=yref, mode="lines",
                             line=dict(color=color, width=width), hoverinfo="skip"))


panel_data = [
    dict(pos1=A1_POS, base2=A2_BASE, sp2=A2_SPIKES, pos3=A3_POS, base4=A4_BASE, sp4=A4_SPIKES,
         stim=STIM_A, bold=STIM_A_BOLD, stim_half=0, stim_y=(-0.82, 0.85), bold_y=(-0.6, 0.3)),
    dict(pos1=B1_POS, base2=B2_BASE, sp2=B2_SPIKES, pos3=B3_POS, base4=B4_BASE, sp4=B4_SPIKES,
         stim=STIM_B, bold=STIM_B_BOLD, stim_half=1, stim_y=(-0.6, 0.85), bold_y=(0.2, 0.85)),
]

for pi, (P, D) in enumerate(zip(PANELS, panel_data)):
    o = P["off"]
    # titles
    text(310, 30 + o, "<b>%s</b>" % P["title"], 28, color="#111")
    text(600, 18 + o, P["tag"], 16, color="#222")
    # faint shadow band above ruler
    line(20, 49 + o, 612, 49 + o, w=3, c="#e8e8e8")

    # ruler axis
    xr = "xaxis%d" % (pi + 2)
    xr_ref = "x%d" % (pi + 2)
    ycount[0] += 1
    yr_name = "yaxis%d" % ycount[0]
    yr_ref = "y%d" % ycount[0]
    layout[yr_name] = dict(domain=dom(RULER[0] + o, RULER[1] + o), range=[0, 1], anchor=xr_ref,
                           showticklabels=False, ticks="", showgrid=False, zeroline=False,
                           showline=True, mirror=True, linecolor="#555", linewidth=1.2, fixedrange=True)
    layout[xr] = dict(domain=[px(PX_L), px(PX_R)], range=[0, T_MAX], anchor=yr_ref, showgrid=False,
                      zeroline=False, showticklabels=False, ticks="inside", ticklen=5, tickwidth=1,
                      tickcolor="#555", tick0=0, dtick=GRID_STEP, showline=True, mirror="allticks",
                      linecolor="#555", linewidth=1.2, fixedrange=True,
                      minor=dict(ticks="inside", ticklen=3, tickcolor="#777", dtick=GRID_STEP / 2,
                                 showgrid=False))
    traces.append(go.Scatter(x=[None], y=[None], xaxis=xr_ref, yaxis=yr_ref, mode="lines", hoverinfo="skip"))
    for t, lbl in zip(RULER_T, RULER_LBL):
        anc = "left" if t == 0 else ("right" if t == T_MAX else "center")
        tx = t + (0.3 if t == 0 else (-0.3 if t == T_MAX else 0))
        annotations.append(dict(x=tx, y=py(61.5 + o), xref=xr_ref, yref="paper", text=lbl, showarrow=False,
                                xanchor=anc, yanchor="middle", font=dict(size=8, color="#444", family=FONT),
                                bgcolor="rgba(255,255,255,0.85)", borderpad=0))

    # channel rows
    yrefs = []
    for (top, bot) in ROWS:
        yrefs.append(new_y(top + o, bot + o, [-4, 4], showgrid=True, gridcolor=GRIDC, gridwidth=1,
                           griddash=GRID_DASH, tick0=0, dtick=1, zeroline=True, zerolinecolor="#4a4a4a",
                           zerolinewidth=1.3))
    tx, ty = unzip(D["pos1"])
    add_line_trace(yrefs[0], tx, ty, width=1.2)
    bx, by = unzip(D["base2"])
    sx, sy = spike_xy(D["base2"], D["sp2"])
    add_line_trace(yrefs[1], sx, sy, color=SPIKE, width=1.4)
    add_line_trace(yrefs[1], bx, by, width=1.5)
    tx, ty = unzip(D["pos3"])
    add_line_trace(yrefs[2], tx, ty, width=1.2)
    bx, by = unzip(D["base4"])
    sx, sy = spike_xy(D["base4"], D["sp4"])
    add_line_trace(yrefs[3], sx, sy, color=SPIKE, width=1.3)
    add_line_trace(yrefs[3], bx, by, width=1.4)

    # stimulus rows
    srefs = []
    for (top, bot) in STIM_ROWS:
        srefs.append(new_y(top + o, bot + o, [-1, 1], showgrid=True, gridcolor=GRIDC, gridwidth=1,
                           griddash=GRID_DASH, tickvals=[0]))
    sref = srefs[D["stim_half"]]
    sx, sy = seg_xy(D["stim"], *D["stim_y"])
    add_line_trace(sref, sx, sy, color=STIMC, width=1.0)
    sx, sy = seg_xy(D["bold"], *D["bold_y"])
    add_line_trace(sref, sx, sy, color="#222", width=2.5)
    add_line_trace(srefs[1 - D["stim_half"]], [None], [None])

    # bottom boxes
    b1 = new_y(BOXES[0][0] + o, BOXES[0][1] + o, [-4.0 / 15.0, 1.0])
    add_line_trace(b1, [0, REC_END], [0, 0], color="#444", width=1.3)
    b2 = new_y(BOXES[1][0] + o, min(BOXES[1][1] + o, H), [0, 1])
    add_line_trace(b2, [None], [None])

    # ---- frames
    top0, bot4 = ROWS[0][0] + o, ROWS[3][1] + o
    line(11, top0, 613, top0, w=1.6)
    for (_, bot) in ROWS:
        line(11, bot + o, 613, bot + o, w=1.8)
    line(11, top0, 11, bot4, w=1.6)
    line(613, top0, 613, bot4, w=1.6)
    line(PX_L, top0, PX_L, bot4, w=1.4)
    line(PX_R, top0, PX_R, bot4, w=1.4)
    # stimulus box
    s_top, s_mid, s_bot = STIM_ROWS[0][0] + o, STIM_ROWS[0][1] + o, STIM_ROWS[1][1] + o
    line(10, s_bot, PX_R, s_bot, w=1.5)
    line(PX_L, s_mid, PX_R, s_mid, w=1.4)
    line(10, s_top, 10, s_bot, w=1.4)
    line(PX_L, s_top, PX_L, s_bot, w=1.4)
    line(PX_R, s_top, PX_R, s_bot, w=1.4)
    # bottom boxes
    bt0, bm, bb = BOXES[0][0] + o, BOXES[0][1] + o, BOXES[1][1] + o
    line(PX_L, bt0, PX_R, bt0, w=1.4)
    line(PX_L, bm, PX_R, bm, w=2.0)
    if bb <= H:
        line(PX_L, bb, PX_R, bb, w=1.4)
    line(PX_L, bt0, PX_L, min(bb, H), w=1.4)
    line(PX_R, bt0, PX_R, min(bb, H), w=1.4)

    # ---- texts
    for i, (top, bot) in enumerate(ROWS):
        text(17, (top + bot) / 2 + o, ROW_LABELS[i], 11, color="#333")
        text(598, bot + o - 8, SCALE_LBL[i], 8, anchor="right", color="#444")
    text(25, top0 + 7, "00:00.000", 8.5, anchor="left", color="#444")
    text(598, top0 + 7, "END", 8, anchor="right", color="#444")
    for j, ch in enumerate(STIM_LBL):
        text(16.5, s_top + 7 + j * 14.5, ch, 8, color="#444", family="Noto Sans CJK JP")

layout["shapes"] = shapes
layout["annotations"] = annotations
fig = go.Figure(data=traces, layout=layout)
fig.write_html("out.html", config={"displayModeBar": False},
               post_script="document.body.style.margin='0';document.body.style.overflow='hidden';")
